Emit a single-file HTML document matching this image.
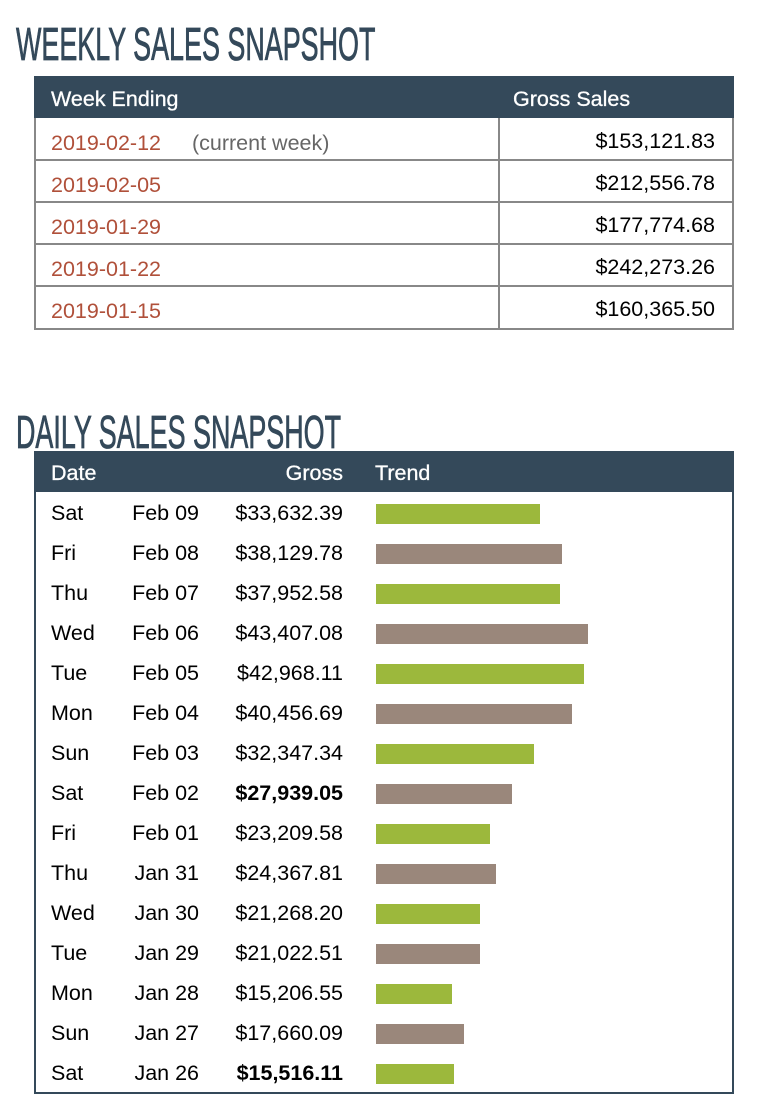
<!DOCTYPE html>
<html><head><meta charset="utf-8"><style>
*{margin:0;padding:0;box-sizing:border-box}
body{width:760px;height:1118px;background:#fff;position:relative;font-family:"Liberation Sans",Arial,sans-serif;font-size:21.5px;color:#000;overflow:hidden}
.t{position:absolute;left:16px;font-family:"Liberation Sans",sans-serif;font-size:46px;color:#34495a;transform-origin:0 0;transform:scaleX(0.585);white-space:nowrap;-webkit-text-stroke:0.8px #34495a}
.a{position:absolute;white-space:nowrap;line-height:24px}
.hd{position:absolute;background:#34495a}
.w{color:#fff;-webkit-text-stroke:0.3px #fff}
.r{color:#b0503a}
.bar{position:absolute;left:376px;height:20px}
.g{background:#9cb83c}.b{background:#9a877b}
</style></head><body>
<div class="t" style="top:17px">WEEKLY SALES SNAPSHOT</div>
<div class="hd" style="left:34px;top:76px;width:700px;height:42px"></div>
<div class="a w" style="left:51px;top:87px">Week Ending</div>
<div class="a w" style="left:513px;top:87px">Gross Sales</div>
<div style="position:absolute;left:34px;top:118px;width:700px;height:212px;border:2px solid #888;border-top:none"></div>
<div style="position:absolute;left:498px;top:118px;width:2px;height:211px;background:#888"></div>
<div style="position:absolute;left:34px;top:159px;width:700px;height:2px;background:#888"></div>
<div style="position:absolute;left:34px;top:201px;width:700px;height:2px;background:#888"></div>
<div style="position:absolute;left:34px;top:243px;width:700px;height:2px;background:#888"></div>
<div style="position:absolute;left:34px;top:285px;width:700px;height:2px;background:#888"></div>
<div class="a r" style="left:51px;top:131px">2019-02-12</div><div class="a" style="left:192px;top:131px;color:#666">(current week)</div>
<div class="a" style="right:45px;top:129px">$153,121.83</div>
<div class="a r" style="left:51px;top:173px">2019-02-05</div><div class="a" style="right:45px;top:171px">$212,556.78</div>
<div class="a r" style="left:51px;top:215px">2019-01-29</div><div class="a" style="right:45px;top:213px">$177,774.68</div>
<div class="a r" style="left:51px;top:257px">2019-01-22</div><div class="a" style="right:45px;top:255px">$242,273.26</div>
<div class="a r" style="left:51px;top:299px">2019-01-15</div><div class="a" style="right:45px;top:297px">$160,365.50</div>

<div class="t" style="top:405px">DAILY SALES SNAPSHOT</div>
<div class="hd" style="left:34px;top:451px;width:700px;height:41px"></div>
<div class="a w" style="left:51px;top:461px">Date</div>
<div class="a w" style="right:417px;top:461px">Gross</div>
<div class="a w" style="left:375px;top:461px">Trend</div>
<div style="position:absolute;left:34px;top:491px;width:700px;height:603px;border:2px solid #34495a;border-top:none"></div>
<div id="rows"></div>
<script>
var d=[["Sat","Feb 09","$33,632.39",164],["Fri","Feb 08","$38,129.78",186],["Thu","Feb 07","$37,952.58",184],["Wed","Feb 06","$43,407.08",212],["Tue","Feb 05","$42,968.11",208],["Mon","Feb 04","$40,456.69",196],["Sun","Feb 03","$32,347.34",158],["Sat","Feb 02","<b>$27,939.05</b>",136],["Fri","Feb 01","$23,209.58",114],["Thu","Jan 31","$24,367.81",120],["Wed","Jan 30","$21,268.20",104],["Tue","Jan 29","$21,022.51",104],["Mon","Jan 28","$15,206.55",76],["Sun","Jan 27","$17,660.09",88],["Sat","Jan 26","<b>$15,516.11</b>",78]];
var h="";
d.forEach(function(r,i){var c=492+i*40+20;var ty=c-11;
h+='<div class="a" style="left:51px;top:'+ty+'px">'+r[0]+'</div>';
h+='<div class="a" style="right:561px;top:'+ty+'px">'+r[1]+'</div>';
h+='<div class="a" style="right:417px;top:'+ty+'px">'+r[2]+'</div>';
h+='<div class="bar '+(i%2?'b':'g')+'" style="top:'+(c-8)+'px;width:'+r[3]+'px"></div>';});
document.getElementById("rows").innerHTML=h;
</script>
</body></html>
